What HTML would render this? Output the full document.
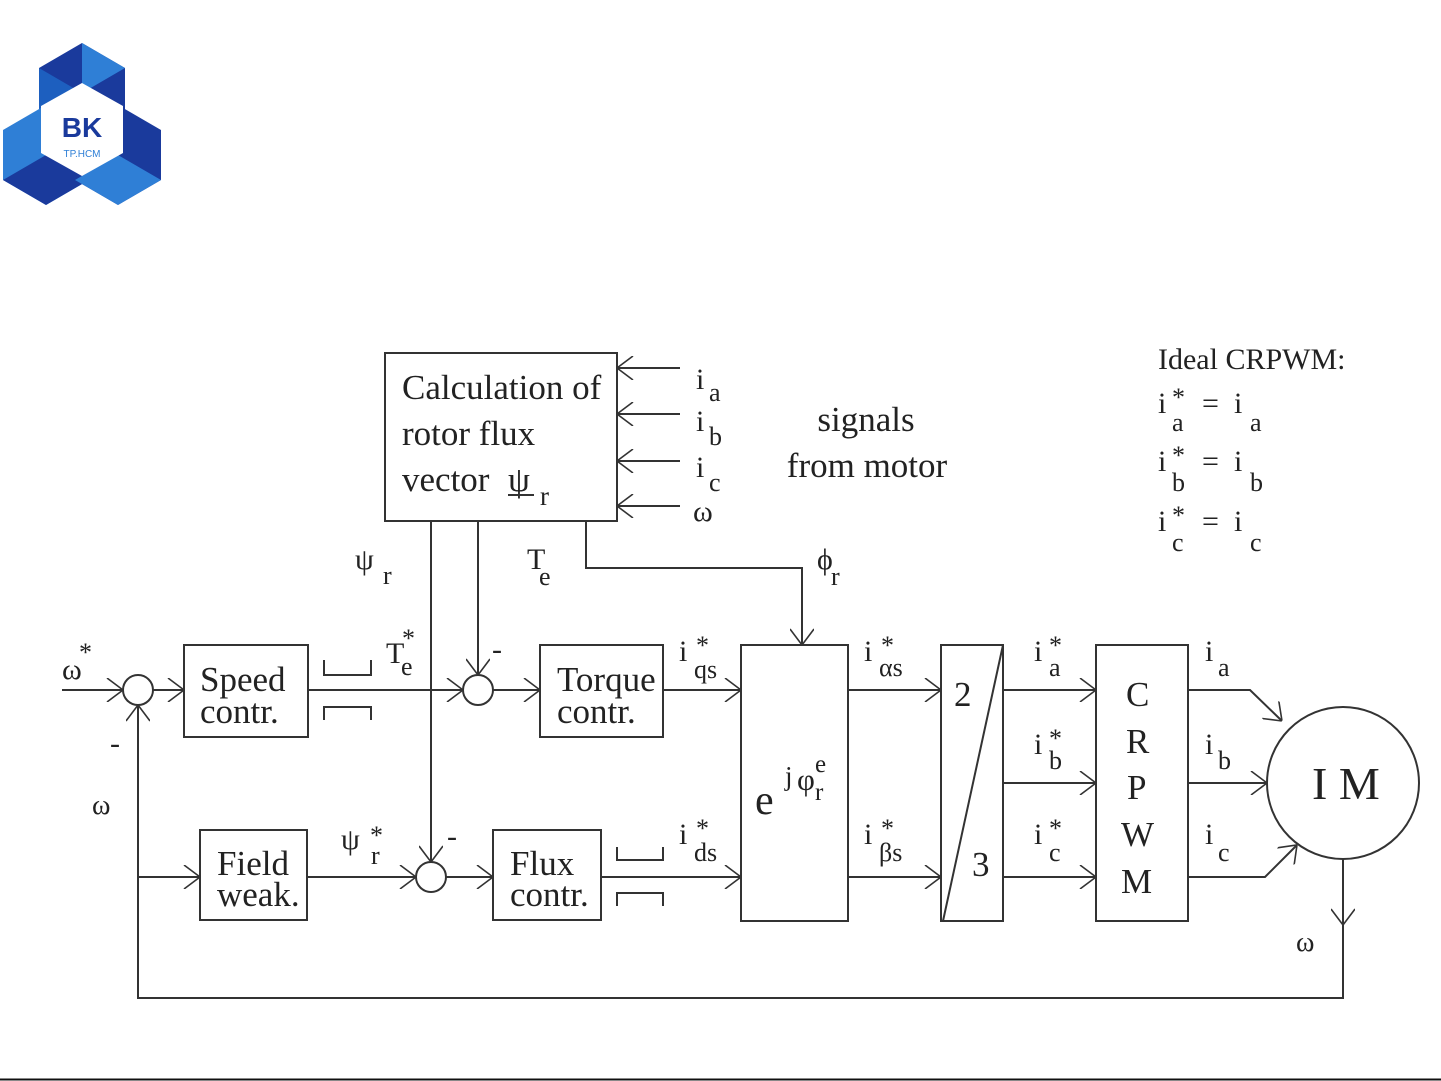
<!DOCTYPE html>
<html><head><meta charset="utf-8"><style>
html,body{margin:0;padding:0;background:#fff;}
svg{display:block;}
text{font-family:"Liberation Serif",serif;fill:#222;}
</style></head><body>
<svg width="1441" height="1081" viewBox="0 0 1441 1081" xmlns="http://www.w3.org/2000/svg">
<defs>
<marker id="a" viewBox="0 0 24 24" refX="24" refY="12" markerWidth="24" markerHeight="24" markerUnits="userSpaceOnUse" orient="auto">
<path d="M8 0 L24 12 L8 24" fill="none" stroke="#333" stroke-width="1.6"/>
</marker>
</defs>
<!-- logo -->
<g>
<polygon points="82,43 125,68 125,118 82,93 39,118 39,68" fill="#1a3a9c"/>
<polygon points="82,43 125,68 82,93" fill="#2f7fd6"/>
<polygon points="39,118 39,68 82,93" fill="#1d5fbf"/>
<polygon points="3,130 46,105 89,130 89,180 46,205 3,180" fill="#2f7fd6"/>
<polygon points="3,180 46,205 89,180 46,155" fill="#1a3a9c"/>
<polygon points="75,130 118,105 161,130 161,180 118,205 75,180" fill="#1a3a9c"/>
<polygon points="75,180 118,205 161,180 118,155" fill="#2f7fd6"/>
<polygon points="82,83 123,106 123,153 82,176 41,153 41,106" fill="#fff"/>
<text x="82" y="137" text-anchor="middle" style="font-family:'Liberation Sans',sans-serif;font-weight:bold;font-size:28px;fill:#1a3a9c">BK</text>
<text x="82" y="157" text-anchor="middle" style="font-family:'Liberation Sans',sans-serif;font-size:10px;fill:#2f7fd6">TP.HCM</text>
</g>
<g stroke="#333" stroke-width="2" fill="none">
<rect x="385" y="353" width="232" height="168"/>
<rect x="184" y="645" width="124" height="92"/>
<rect x="540" y="645" width="123" height="92"/>
<rect x="741" y="645" width="107" height="276"/>
<rect x="941" y="645" width="62" height="276"/>
<line x1="1003" y1="645" x2="943" y2="921"/>
<rect x="1096" y="645" width="92" height="276"/>
<rect x="200" y="830" width="107" height="90"/>
<rect x="493" y="830" width="108" height="90"/>
<circle cx="1343" cy="783" r="76"/>
<circle cx="138" cy="690" r="15"/>
<circle cx="478" cy="690" r="15"/>
<circle cx="431" cy="877" r="15"/>
<line x1="680" y1="368" x2="617" y2="368" marker-end="url(#a)"/>
<line x1="680" y1="414" x2="617" y2="414" marker-end="url(#a)"/>
<line x1="680" y1="461" x2="617" y2="461" marker-end="url(#a)"/>
<line x1="680" y1="506" x2="617" y2="506" marker-end="url(#a)"/>
<line x1="62" y1="690" x2="123" y2="690" marker-end="url(#a)"/>
<line x1="153" y1="690" x2="184" y2="690" marker-end="url(#a)"/>
<line x1="308" y1="690" x2="463" y2="690" marker-end="url(#a)"/>
<line x1="493" y1="690" x2="540" y2="690" marker-end="url(#a)"/>
<line x1="663" y1="690" x2="741" y2="690" marker-end="url(#a)"/>
<line x1="848" y1="690" x2="941" y2="690" marker-end="url(#a)"/>
<line x1="1003" y1="690" x2="1096" y2="690" marker-end="url(#a)"/>
<line x1="1003" y1="783" x2="1096" y2="783" marker-end="url(#a)"/>
<line x1="1003" y1="877" x2="1096" y2="877" marker-end="url(#a)"/>
<polyline points="1188,690 1250,690 1282,721" marker-end="url(#a)"/>
<line x1="1188" y1="783" x2="1267" y2="783" marker-end="url(#a)"/>
<polyline points="1188,877 1265,877 1297,845" marker-end="url(#a)"/>
<line x1="138" y1="877" x2="200" y2="877" marker-end="url(#a)"/>
<line x1="307" y1="877" x2="416" y2="877" marker-end="url(#a)"/>
<line x1="446" y1="877" x2="493" y2="877" marker-end="url(#a)"/>
<line x1="601" y1="877" x2="741" y2="877" marker-end="url(#a)"/>
<line x1="848" y1="877" x2="941" y2="877" marker-end="url(#a)"/>
<polyline points="1343,859 1343,998 138,998 138,705" marker-end="url(#a)"/>
<line x1="1343" y1="859" x2="1343" y2="925" marker-end="url(#a)"/>
<line x1="431" y1="521" x2="431" y2="862" marker-end="url(#a)"/>
<line x1="478" y1="521" x2="478" y2="675" marker-end="url(#a)"/>
<polyline points="586,521 586,568 802,568 802,645" marker-end="url(#a)"/>
<polyline points="324,660 324,675 371,675 371,660"/>
<polyline points="324,720 324,707 371,707 371,720"/>
<polyline points="617,847 617,860 663,860 663,847"/>
<polyline points="617,906 617,893 663,893 663,906"/>
</g>
<g font-size="35">
<text x="402" y="399">Calculation of</text>
<text x="402" y="445">rotor flux</text>
<text x="402" y="491">vector</text>
<text x="508" y="491">ψ</text><line x1="508" y1="495" x2="534" y2="495" stroke="#333" stroke-width="2"/>
<text x="540" y="505" font-size="27">r</text>
<text x="866" y="431" text-anchor="middle">signals</text>
<text x="867" y="477" text-anchor="middle">from motor</text>
<text x="200" y="691">Speed</text>
<text x="200" y="723">contr.</text>
<text x="557" y="691">Torque</text>
<text x="557" y="723">contr.</text>
<text x="217" y="875">Field</text>
<text x="217" y="906">weak.</text>
<text x="510" y="875">Flux</text>
<text x="510" y="906">contr.</text>
<text x="1126" y="706">C</text>
<text x="1126" y="753">R</text>
<text x="1127" y="799">P</text>
<text x="1121" y="846">W</text>
<text x="1121" y="893">M</text>
<text x="954" y="706">2</text>
<text x="972" y="876">3</text>
<text x="1312" y="799" font-size="46">I M</text>
<text x="755" y="814" font-size="42">e</text>
<text x="785" y="785" font-size="27">j</text>
<text x="797" y="790" font-size="31">φ</text>
<text x="815" y="772" font-size="25">e</text>
<text x="815" y="800" font-size="25">r</text>
</g>
<g font-size="30">
<text x="696" y="389">i</text><text x="709" y="401" font-size="26">a</text>
<text x="696" y="431">i</text><text x="709" y="445" font-size="26">b</text>
<text x="696" y="477">i</text><text x="709" y="491" font-size="26">c</text>
<text x="693" y="521">ω</text>
<text x="355" y="569">ψ</text><text x="383" y="584" font-size="26">r</text>
<text x="527" y="569">T</text><text x="539" y="585" font-size="26">e</text>
<text x="817" y="569">ϕ</text><text x="831" y="585" font-size="26">r</text>
<text x="386" y="663">T</text><text x="401" y="675" font-size="26">e</text><text x="402" y="647" font-size="26">*</text>
<text x="62" y="679">ω</text><text x="79" y="661" font-size="26">*</text>
<text x="110" y="753">-</text>
<text x="92" y="814" font-size="28">ω</text>
<text x="492" y="659">-</text>
<text x="447" y="846">-</text>
<text x="341" y="849">ψ</text><text x="371" y="864" font-size="26" fill="#4a5a20">r</text><text x="370" y="844" font-size="26">*</text>
<text x="679" y="661">i</text><text x="696" y="654" font-size="26">*</text><text x="694" y="678" font-size="26">qs</text>
<text x="679" y="844">i</text><text x="696" y="837" font-size="26">*</text><text x="694" y="861" font-size="26">ds</text>
<text x="864" y="661">i</text><text x="881" y="654" font-size="26">*</text><text x="879" y="676" font-size="26">αs</text>
<text x="864" y="844">i</text><text x="881" y="837" font-size="26">*</text><text x="879" y="861" font-size="26">βs</text>
<text x="1034" y="661">i</text><text x="1049" y="654" font-size="26">*</text><text x="1049" y="676" font-size="26">a</text>
<text x="1034" y="754">i</text><text x="1049" y="747" font-size="26">*</text><text x="1049" y="769" font-size="26">b</text>
<text x="1034" y="844">i</text><text x="1049" y="837" font-size="26">*</text><text x="1049" y="861" font-size="26">c</text>
<text x="1205" y="661">i</text><text x="1218" y="676" font-size="26">a</text>
<text x="1205" y="754">i</text><text x="1218" y="769" font-size="26">b</text>
<text x="1205" y="844">i</text><text x="1218" y="861" font-size="26">c</text>
<text x="1296" y="951" font-size="28">ω</text>
<text x="1158" y="369" font-size="30">Ideal CRPWM:</text>
<text x="1158" y="413">i</text><text x="1172" y="406" font-size="26">*</text><text x="1172" y="431" font-size="26">a</text><text x="1202" y="413">=</text><text x="1234" y="413">i</text><text x="1250" y="431" font-size="26">a</text>
<text x="1158" y="471">i</text><text x="1172" y="464" font-size="26">*</text><text x="1172" y="491" font-size="26">b</text><text x="1202" y="471">=</text><text x="1234" y="471">i</text><text x="1250" y="491" font-size="26">b</text>
<text x="1158" y="531">i</text><text x="1172" y="524" font-size="26">*</text><text x="1172" y="551" font-size="26">c</text><text x="1202" y="531">=</text><text x="1234" y="531">i</text><text x="1250" y="551" font-size="26">c</text>
</g>
<line x1="0" y1="1079.5" x2="1441" y2="1079.5" stroke="#111" stroke-width="2"/>
</svg>
</body></html>
